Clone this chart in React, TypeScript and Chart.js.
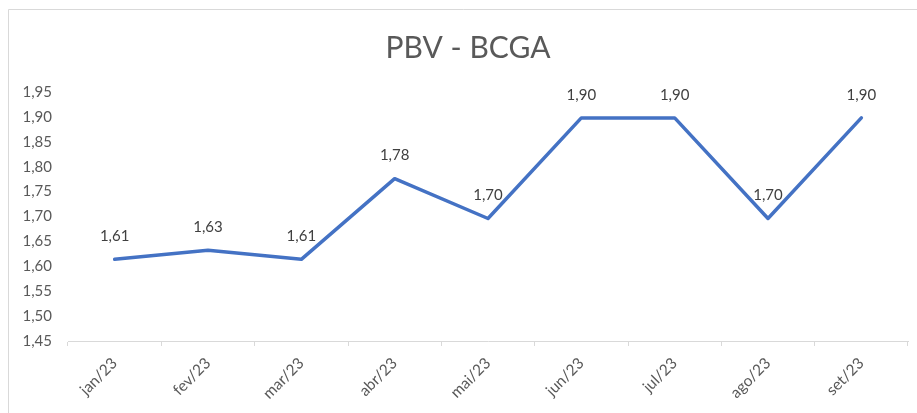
import React, { useEffect, useRef } from "react";
import { Chart, registerables } from "chart.js";

Chart.register(...registerables);

const TITLE = "PBV - BCGA";
const categories = ["jan/23", "fev/23", "mar/23", "abr/23", "mai/23", "jun/23", "jul/23", "ago/23", "set/23"];
const pbvValues = [1.614, 1.632, 1.614, 1.776, 1.696, 1.898, 1.898, 1.696, 1.898];
const yMin = 1.45;
const yMax = 1.95;
const yStep = 0.05;

const FONT = "Lato, 'Open Sans', sans-serif";
const fmt = (v: number) => v.toFixed(2).replace(".", ",");

const borderPlugin = {
  id: "frame",
  beforeDraw(chart: any) {
    const ctx = chart.ctx;
    ctx.save();
    ctx.fillStyle = "#ffffff";
    ctx.fillRect(0, 0, chart.width, chart.height);
    ctx.strokeStyle = "#d9d9d9";
    ctx.lineWidth = 1;
    ctx.beginPath();
    ctx.moveTo(8.5, chart.height + 2);
    ctx.lineTo(8.5, 9.5);
    ctx.lineTo(chart.width + 2, 9.5);
    ctx.stroke();
    ctx.fillStyle = "#595959";
    ctx.font = `30px ${FONT}`;
    ctx.textAlign = "center";
    ctx.textBaseline = "middle";
    ctx.fillText(TITLE, 468, 48);
    ctx.restore();
  },
};

const labelPlugin = {
  id: "valueLabels",
  afterDatasetsDraw(chart: any) {
    const ctx = chart.ctx;
    const meta = chart.getDatasetMeta(0);
    const data = chart.data.datasets[0].data as number[];
    ctx.save();
    ctx.font = `15px ${FONT}`;
    ctx.fillStyle = "#404040";
    ctx.textAlign = "center";
    ctx.textBaseline = "middle";
    meta.data.forEach((pt: any, i: number) => {
      ctx.fillText(fmt(data[i]), pt.x, pt.y - 23);
    });
    ctx.restore();
  },
};

export default function App() {
  const ref = useRef<HTMLCanvasElement>(null);
  useEffect(() => {
    if (!ref.current) return;
    const chart = new Chart(ref.current, {
      type: "line",
      data: {
        labels: categories,
        datasets: [
          {
            data: pbvValues,
            borderColor: "#4472C4",
            borderWidth: 3.5,
            pointRadius: 0,
            tension: 0,
            borderCapStyle: "round",
            borderJoinStyle: "round",
          },
        ],
      },
      options: {
        animation: false,
        responsive: false,
        maintainAspectRatio: false,
        layout: { padding: { left: 0, right: 9, top: 92, bottom: 0 } },
        plugins: {
          legend: { display: false },
          tooltip: { enabled: false },
          title: { display: false },
        },
        scales: {
          x: {
            offset: true,
            grid: {
              offset: true,
              drawOnChartArea: false,
              drawTicks: true,
              tickLength: 5,
              color: "#d9d9d9",
            },
            border: { display: true, color: "#d9d9d9", width: 1 },
            ticks: {
              minRotation: 45,
              maxRotation: 45,
              color: "#595959",
              font: { family: FONT, size: 15.5 },
              padding: 8,
            },
            afterFit(scale: any) {
              scale.height = 72;
            },
          },
          y: {
            min: yMin,
            max: yMax,
            grid: { display: false, drawTicks: false },
            border: { display: false },
            ticks: {
              stepSize: yStep,
              color: "#595959",
              font: { family: FONT, size: 15 },
              padding: 16,
              callback: (v: any) => fmt(Number(v)),
            },
            afterFit(scale: any) {
              scale.width = 68;
            },
          },
        },
      },
      plugins: [borderPlugin, labelPlugin],
    });
    return () => chart.destroy();
  }, []);
  return (
    <div style={{ position: "fixed", left: 0, top: 0, width: 917, height: 413 }}>
      <canvas ref={ref} width={917} height={413} style={{ display: "block" }} />
    </div>
  );
}
